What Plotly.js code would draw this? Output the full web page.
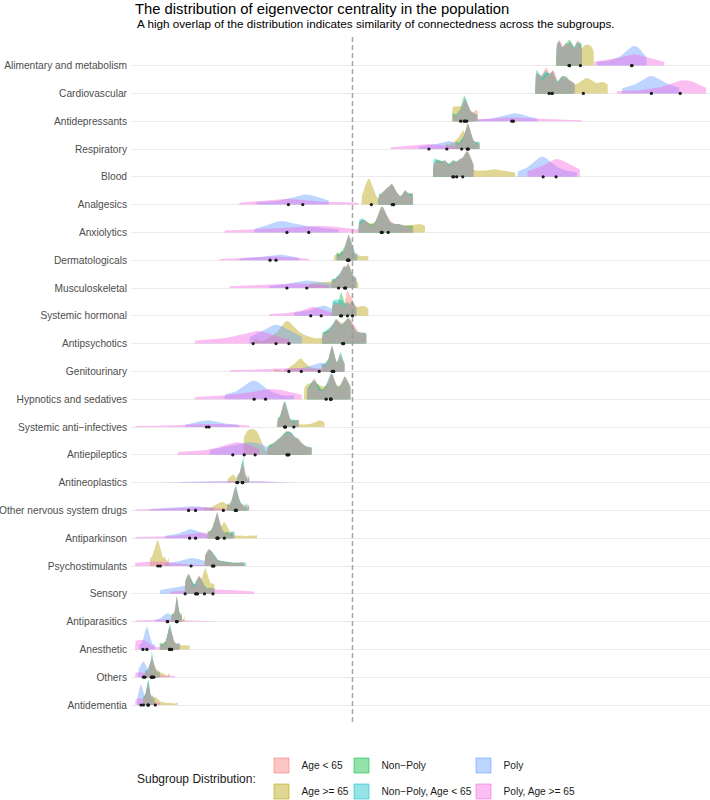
<!DOCTYPE html>
<html>
<head>
<meta charset="utf-8">
<script src="https://cdn.plot.ly/plotly-3.0.1.min.js"></script>
<style>
  html, body { margin: 0; padding: 0; background: #ffffff; }
  #chart { width: 710px; height: 800px; }
</style>
</head>
<body>
<div id="chart"></div>
<script>
// Therapeutic groups, listed top to bottom
const categories = [
  "Alimentary and metabolism", "Cardiovascular", "Antidepressants", "Respiratory", "Blood",
  "Analgesics", "Anxiolytics", "Dermatologicals", "Musculoskeletal", "Systemic hormonal",
  "Antipsychotics", "Genitourinary", "Hypnotics and sedatives", "Systemic anti\u2212infectives",
  "Antiepileptics", "Antineoplastics", "Other nervous system drugs", "Antiparkinson",
  "Psychostimulants", "Sensory", "Antiparasitics", "Anesthetic", "Others", "Antidementia"
];

const subgroups = [
  "Age < 65", "Age >= 65", "Non\u2212Poly", "Non\u2212Poly, Age < 65", "Poly", "Poly, Age >= 65"
];

// Eigenvector centrality reference value (dashed line)
const referenceCentrality = 0.219;

// Centrality samples, one list per therapeutic group (same order as categories)
const allPatients = [
  [.424,.426,.427,.428,.431,.433,.434,.436,.438,.439,.441,.444,.445,.446,.449,.450],
  [.403,.405,.406,.407,.412,.414,.415,.419,.420,.421,.422,.428,.430,.431,.435,.436,.440,.443],
  [.320,.324,.327,.329,.330,.331,.332,.333,.334,.335,.337,.339,.342,.345],
  [.323,.327,.330,.332,.333,.334,.335,.335,.336,.337,.338,.340,.343,.347],
  [.300,.302,.305,.306,.311,.312,.313,.319,.320,.321,.326,.327,.328,.332,.333,.334,.335,.336,.339,.341],
  [.245,.248,.251,.253,.254,.257,.258,.259,.260,.263,.265,.270,.272,.273,.277,.280],
  [.225,.229,.231,.233,.238,.244,.246,.247,.248,.249,.250,.251,.253,.256,.260,.264,.268,.273,.280],
  [.203,.207,.210,.212,.213,.214,.215,.215,.216,.217,.218,.220,.223],
  [.198,.202,.205,.207,.209,.210,.211,.213,.214,.215,.216,.218,.220,.223],
  [.198,.200,.202,.203,.206,.207,.208,.212,.213,.214,.217,.218,.219,.221,.223],
  [.188,.193,.197,.200,.202,.203,.205,.208,.211,.213,.215,.216,.218,.221,.225,.229,.233],
  [.188,.192,.195,.197,.198,.198,.199,.200,.202,.205,.207,.208,.211],
  [.173,.177,.180,.181,.182,.188,.192,.196,.197,.198,.199,.200,.204,.209,.210,.211,.212,.215,.217],
  [.143,.146,.148,.149,.150,.150,.151,.152,.153,.155,.158,.162,.165],
  [.133,.138,.141,.144,.146,.148,.150,.152,.153,.155,.156,.158,.160,.162,.164,.166,.169,.173,.178],
  [.103,.105,.106,.107,.108,.108,.109,.110,.112,.115],
  [.093,.097,.099,.100,.101,.101,.102,.103,.105,.108,.115],
  [.073,.077,.080,.081,.082,.083,.083,.084,.086,.089,.094,.100],
  [.070,.072,.073,.074,.075,.076,.077,.079,.082,.086,.091,.097,.104,.110],
  [.050,.052,.053,.054,.055,.056,.060,.063,.064,.065,.066,.068,.072,.076,.080],
  [.037,.039,.040,.041,.042,.042,.042,.043,.044,.045,.047],
  [.025,.029,.032,.033,.034,.035,.035,.036,.037,.039,.042,.045],
  [.010,.013,.015,.016,.017,.017,.018,.019,.021,.025],
  [.008,.010,.011,.012,.013,.013,.014,.015,.017,.020]
];

const ageUnder65 = [
  [.425,.427,.428,.430,.433,.434,.437,.438,.440,.443,.445,.446,.448,.450],
  [.404,.406,.409,.413,.414,.415,.420,.421,.423,.429,.431,.436,.441],
  [.321,.326,.329,.331,.332,.334,.335,.337,.340,.343,.345],
  [.324,.329,.332,.334,.335,.336,.337,.339,.342,.346],
  [.301,.305,.307,.312,.313,.320,.321,.327,.328,.333,.334,.335,.338,.341],
  [.246,.250,.253,.256,.258,.259,.262,.266,.271,.273,.278,.280],
  [.226,.230,.232,.239,.245,.247,.248,.250,.252,.255,.259,.265,.271,.279],
  [.204,.208,.211,.213,.214,.215,.216,.217,.219,.223],
  [.199,.203,.206,.209,.210,.212,.214,.215,.216,.219,.222],
  [.203,.206,.208,.212,.213,.214,.215,.217,.218,.220,.223],
  [.190,.195,.199,.202,.204,.207,.210,.213,.215,.217,.220,.224,.230],
  [.189,.193,.196,.197,.198,.199,.201,.204,.206,.207,.208,.211],
  [.175,.179,.181,.182,.189,.194,.197,.198,.199,.203,.209,.211,.212,.216],
  [.144,.147,.149,.150,.151,.152,.154,.157,.161,.165],
  [.134,.139,.143,.146,.149,.151,.153,.155,.157,.159,.162,.165,.169,.176],
  [.104,.106,.107,.108,.109,.110,.111,.114],
  [.094,.098,.100,.101,.102,.103,.105,.109,.114],
  [.074,.078,.080,.082,.083,.084,.085,.088,.093,.099],
  [.071,.073,.074,.075,.076,.078,.080,.084,.089,.095,.103,.110],
  [.051,.053,.054,.055,.058,.062,.064,.065,.067,.071,.078],
  [.038,.040,.041,.042,.042,.043,.044,.046],
  [.026,.030,.033,.034,.035,.036,.037,.040,.044],
  [.011,.014,.016,.017,.018,.019,.021,.024],
  [.009,.011,.012,.013,.014,.015,.017,.019]
];

const ageOver65 = [
  [.424,.428,.432,.436,.440,.444,.447,.450,.452,.454,.456,.458,.460,.462],
  [.403,.410,.418,.425,.433,.440,.446,.450,.453,.455,.457,.460,.466,.470,.473,.476],
  [.319,.321,.323,.325,.327,.329,.331,.333,.335,.338],
  [.313,.318,.322,.325,.327,.329,.330,.331,.333,.335,.337],
  [.300,.303,.306,.309,.312,.315,.318,.321,.324,.327,.330,.334,.338,.344,.350,.356,.361,.364,.370,.377,.383],
  [.228,.232,.234,.235,.235,.236,.237,.239,.243,.250,.256,.262,.268,.275],
  [.225,.230,.236,.242,.248,.252,.258,.265,.272,.280,.286,.292],
  [.200,.204,.207,.210,.212,.214,.216,.218,.221,.225,.230,.235],
  [.175,.182,.188,.194,.199,.203,.207,.211,.214,.217,.220,.225],
  [.198,.203,.207,.211,.215,.219,.223,.226,.229,.232,.235],
  [.120,.135,.142,.147,.150,.152,.154,.156,.159,.163,.168,.175,.185,.195],
  [.140,.155,.160,.163,.165,.166,.167,.168,.170,.173,.178,.185,.195,.205],
  [.170,.174,.178,.181,.185,.190,.195,.198,.202,.207,.211,.215],
  [.144,.148,.150,.151,.153,.156,.160,.168,.176,.183,.185,.187,.191],
  [.109,.110,.112,.113,.115,.116,.118,.119,.121,.122,.124,.125,.127,.140,.150,.160,.170],
  [.093,.096,.098,.099,.101,.104,.107,.108,.109,.111],
  [.070,.078,.083,.086,.088,.090,.094,.099,.103,.110],
  [.075,.080,.085,.088,.089,.090,.090,.091,.093,.098,.106,.115,.123],
  [.015,.018,.020,.021,.022,.023,.024,.025,.027,.030,.034],
  [.055,.060,.064,.067,.069,.070,.071,.072,.074,.077,.080],
  [.036,.038,.040,.041,.042,.043,.044,.046,.050],
  [.026,.030,.033,.035,.036,.038,.041,.045,.050,.055],
  [.012,.015,.017,.018,.019,.021,.024,.028,.035],
  [.010,.013,.016,.018,.020,.021,.023,.028,.035,.043]
];

const nonPoly = [
  [.424,.426,.428,.431,.433,.435,.437,.438,.440,.442,.445,.447,.449,.450],
  [.403,.405,.407,.412,.414,.416,.420,.422,.428,.430,.434,.436,.442],
  [.320,.325,.328,.330,.331,.332,.333,.335,.338,.342],
  [.323,.328,.331,.333,.334,.335,.336,.338,.341,.345],
  [.300,.304,.306,.311,.313,.319,.321,.326,.328,.333,.335,.336,.340],
  [.245,.249,.252,.254,.257,.258,.260,.264,.270,.272,.276,.279],
  [.225,.229,.231,.237,.244,.246,.248,.249,.251,.254,.261,.266,.274,.280],
  [.203,.207,.210,.212,.214,.215,.216,.218,.221],
  [.198,.202,.205,.208,.210,.211,.213,.215,.216,.218,.221],
  [.199,.201,.203,.206,.207,.208,.209,.212,.214,.218,.222],
  [.188,.193,.198,.201,.203,.205,.209,.212,.214,.216,.219,.226,.232],
  [.188,.192,.195,.197,.198,.199,.200,.203,.207,.210],
  [.173,.178,.180,.182,.187,.193,.196,.198,.200,.205,.210,.211,.214,.217],
  [.143,.146,.148,.150,.150,.151,.153,.156,.160,.164],
  [.133,.138,.142,.145,.148,.150,.152,.154,.156,.158,.161,.164,.168,.174],
  [.103,.105,.107,.108,.108,.109,.111,.115],
  [.093,.097,.099,.100,.101,.102,.104,.107,.112],
  [.073,.077,.080,.081,.082,.083,.085,.087,.092,.098],
  [.070,.072,.074,.075,.076,.077,.079,.083,.088,.094,.101,.108],
  [.050,.052,.054,.055,.057,.061,.063,.065,.066,.070,.076],
  [.037,.039,.041,.042,.042,.043,.044,.047],
  [.025,.029,.032,.034,.035,.035,.036,.038,.043],
  [.010,.013,.015,.016,.017,.018,.020,.025],
  [.008,.010,.012,.013,.013,.014,.016,.020]
];

const nonPolyUnder65 = [
  [.424,.425,.427,.429,.432,.433,.436,.438,.439,.442,.444,.446,.448,.449],
  [.403,.404,.406,.411,.413,.415,.419,.421,.428,.430,.435,.440],
  [.320,.324,.328,.330,.332,.333,.334,.336,.339,.343],
  [.324,.328,.331,.333,.335,.336,.337,.339,.343,.347],
  [.300,.302,.305,.310,.312,.318,.320,.326,.327,.332,.334,.336,.339],
  [.245,.248,.253,.255,.258,.259,.261,.265,.271,.272,.277,.280],
  [.225,.228,.231,.236,.244,.247,.248,.250,.251,.256,.262,.267,.275],
  [.204,.208,.211,.213,.215,.216,.217,.218,.220,.224],
  [.199,.203,.206,.208,.210,.212,.214,.215,.217,.220,.223],
  [.198,.200,.202,.204,.206,.208,.210,.213,.216,.219],
  [.189,.194,.198,.201,.203,.206,.210,.213,.215,.217,.221,.228,.233],
  [.190,.194,.196,.198,.199,.200,.203,.206,.207,.208,.211],
  [.174,.178,.181,.183,.190,.195,.197,.198,.200,.206,.210,.212,.215],
  [.144,.147,.149,.150,.151,.152,.153,.155,.159,.163],
  [.135,.140,.144,.147,.150,.152,.154,.156,.158,.160,.163,.167,.172,.178],
  [.104,.106,.107,.108,.109,.109,.110,.113],
  [.095,.098,.100,.101,.102,.102,.104,.106,.113],
  [.075,.079,.081,.082,.083,.084,.086,.090,.096,.100],
  [.071,.073,.075,.076,.077,.078,.081,.085,.090,.097,.105,.112],
  [.051,.053,.054,.056,.059,.063,.065,.066,.069,.074,.080],
  [.038,.040,.041,.042,.043,.043,.045,.047],
  [.027,.031,.033,.034,.035,.036,.037,.039,.045],
  [.011,.014,.016,.017,.017,.018,.020,.023],
  [.009,.011,.012,.013,.014,.014,.016,.018]
];

const poly = [
  [.465,.478,.486,.492,.496,.499,.501,.503,.505,.507,.510,.515],
  [.490,.500,.507,.512,.516,.519,.521,.524,.528,.533,.540,.548],
  [.345,.360,.368,.374,.378,.381,.383,.386,.390,.396,.405],
  [.285,.295,.302,.307,.311,.314,.316,.319,.323,.328,.335],
  [.385,.395,.401,.405,.408,.410,.412,.415,.419,.425,.433,.445],
  [.122,.140,.152,.160,.165,.169,.172,.176,.181,.186,.195],
  [.120,.132,.139,.143,.146,.149,.153,.158,.165,.172,.180,.190,.205],
  [.105,.118,.127,.133,.138,.142,.145,.148,.152,.158,.165],
  [.135,.150,.158,.164,.169,.173,.177,.182,.188,.196,.210],
  [.160,.170,.177,.182,.186,.189,.191,.194,.198,.205],
  [.115,.124,.130,.135,.139,.142,.145,.149,.154,.160,.168],
  [.150,.165,.174,.180,.184,.187,.189,.192,.196,.205],
  [.090,.103,.110,.115,.118,.120,.122,.126,.132,.142,.160],
  [.050,.060,.066,.070,.073,.076,.080,.086,.095,.105],
  [.075,.088,.097,.104,.110,.116,.121,.127,.135],
  [.045,.065,.080,.092,.100,.106,.112,.120,.132,.155],
  [.015,.030,.040,.047,.052,.056,.060,.066,.073,.080],
  [.030,.040,.047,.051,.054,.056,.058,.062,.067,.075],
  [.030,.040,.047,.052,.055,.058,.061,.065,.071,.080],
  [.025,.035,.042,.048,.053,.057,.061,.065],
  [.020,.026,.029,.031,.032,.033,.034,.036,.039,.045],
  [.004,.008,.010,.011,.012,.012,.013,.014,.016,.020],
  [.003,.005,.007,.008,.009,.010,.012,.015],
  [.002,.004,.005,.006,.006,.007,.008,.010,.012]
];

const polyOver65 = [
  [.462,.472,.480,.488,.494,.499,.502,.505,.510,.516,.522,.533],
  [.485,.510,.525,.535,.542,.547,.551,.554,.557,.561,.566,.575],
  [.335,.350,.360,.367,.372,.377,.382,.390,.400,.415,.430,.450],
  [.257,.268,.278,.286,.292,.296,.300,.305,.312,.322,.335],
  [.395,.405,.412,.417,.421,.424,.427,.431,.436,.441,.448],
  [.105,.122,.134,.142,.148,.152,.157,.165,.176,.192,.210,.225],
  [.090,.115,.135,.150,.162,.172,.178,.185,.192,.200,.210,.225],
  [.085,.100,.112,.122,.130,.136,.140,.146,.153,.162,.175],
  [.095,.112,.125,.136,.145,.153,.160,.168,.176,.185,.195],
  [.135,.150,.160,.168,.173,.176,.178,.180,.182,.185,.190,.200],
  [.060,.080,.095,.105,.113,.119,.123,.127,.132,.140,.155],
  [.095,.115,.130,.142,.150,.155,.160,.170,.182,.195,.210],
  [.060,.085,.100,.112,.122,.129,.134,.138,.143,.150,.158,.168],
  [.000,.020,.040,.055,.065,.072,.076,.083,.092,.103,.115],
  [.043,.062,.075,.085,.092,.097,.100,.103,.107,.112,.118,.125],
  [.030,.055,.075,.090,.100,.107,.114,.125,.140,.160],
  [.000,.015,.030,.045,.055,.061,.064,.068,.075,.085,.095],
  [.000,.020,.035,.047,.056,.061,.064,.066,.069,.074,.080],
  [.000,.000,.002,.015,.020,.024,.027,.030,.035,.050,.080,.100],
  [.035,.050,.060,.068,.075,.082,.090,.100,.110,.120],
  [.000,.005,.018,.026,.030,.033,.036,.042,.055,.070,.085],
  [.000,.000,.001,.004,.007,.008,.009,.011,.014,.020,.030],
  [.000,.000,.002,.006,.010,.014,.020,.030,.040],
  [.000,.002,.004,.007,.010,.013,.017,.025]
];

// ---- styling ----
const FONT = "Liberation Sans, Arial, Helvetica, sans-serif";
const hues = ["#F8766D", "#B79F00", "#00BA38", "#00BFC4", "#619CFF", "#F564E3"];
const FILL_ALPHA = 0.42;
const POPULATION_FILL = "rgba(174,171,164,0.95)";
const RIDGE_HEIGHT = 0.93;   // tallest ridge in a row, in row units
const GRID_POINTS = 260;
// kernel bandwidth multiplier (relative to the normal reference rule)
const SMOOTHING = [0.35, 0.35, 0.35, 0.35, 0.6, 0.6];
const SMOOTHING_ALL = 0.35;

function rgba(hex, a) {
  const n = parseInt(hex.slice(1), 16);
  return "rgba(" + ((n >> 16) & 255) + "," + ((n >> 8) & 255) + "," + (n & 255) + "," + a + ")";
}

// ---- kernel density estimate (gaussian kernel, evaluated over the sample range) ----
function bandwidth(xs, factor) {
  const n = xs.length;
  const m = xs.reduce((s, v) => s + v, 0) / n;
  const sd = Math.sqrt(xs.reduce((s, v) => s + (v - m) * (v - m), 0) / (n - 1));
  return Math.max(factor * 1.059 * sd * Math.pow(n, -0.2), 0.0006);
}
function density(xs, factor) {
  const bw = bandwidth(xs, factor);
  const lo = Math.min(...xs), hi = Math.max(...xs);
  const gx = [], gy = [];
  const norm = 1 / (xs.length * bw * Math.sqrt(2 * Math.PI));
  for (let k = 0; k < GRID_POINTS; k++) {
    const g = lo + (hi - lo) * k / (GRID_POINTS - 1);
    let s = 0;
    for (const x of xs) { const u = (g - x) / bw; s += Math.exp(-0.5 * u * u); }
    gx.push(g); gy.push(s * norm);
  }
  return { gx, gy, lo, hi };
}
function median(xs) {
  const s = xs.slice().sort((a, b) => a - b);
  const h = Math.floor(s.length / 2);
  return s.length % 2 ? s[h] : (s[h - 1] + s[h]) / 2;
}

const seriesData = [ageUnder65, ageOver65, nonPoly, nonPolyUnder65, poly, polyOver65];
const nRows = categories.length;
const baseline = i => nRows - 1 - i;

// densities for all series, then the per-row maximum used to scale ridge heights
const dens = seriesData.map((series, s) => series.map(xs => density(xs, SMOOTHING[s])));
const densAll = allPatients.map(xs => density(xs, SMOOTHING_ALL));
const rowMax = categories.map((c, i) => {
  let m = Math.max(...densAll[i].gy);
  dens.forEach(ds => { m = Math.max(m, Math.max(...ds[i].gy)); });
  return m;
});

function ridgePaths(dList) {
  const x = [], y = [];
  dList.forEach((d, i) => {
    const b = baseline(i);
    x.push(d.lo); y.push(b);
    d.gx.forEach((g, k) => { x.push(g); y.push(b + RIDGE_HEIGHT * d.gy[k] / rowMax[i]); });
    x.push(d.hi); y.push(b);
    x.push(null); y.push(null);
  });
  return { x, y };
}

const traces = [];

// coloured subgroup ridges
dens.forEach((dList, s) => {
  const p = ridgePaths(dList);
  traces.push({
    type: "scatter", mode: "lines", x: p.x, y: p.y,
    fill: "toself", fillcolor: rgba(hues[s], FILL_ALPHA),
    line: { width: 0, color: rgba(hues[s], 0) },
    name: subgroups[s], legendgroup: subgroups[s], showlegend: false,
    hoverinfo: "skip"
  });
});

// whole population ridge, in grey, over the subgroups
{
  const p = ridgePaths(densAll);
  traces.push({
    type: "scatter", mode: "lines", x: p.x, y: p.y,
    fill: "toself", fillcolor: POPULATION_FILL,
    line: { width: 0, color: "rgba(0,0,0,0)" },
    name: "All patients", showlegend: false, hoverinfo: "skip"
  });
}

// median markers on the baselines
seriesData.forEach((series, s) => {
  traces.push({
    type: "scatter", mode: "markers",
    x: series.map(median), y: series.map((v, i) => baseline(i)),
    marker: { color: "#1a1a1a", size: 3.2 },
    name: subgroups[s], legendgroup: subgroups[s], showlegend: false,
    hovertemplate: subgroups[s] + " median: %{x:.3f}<extra></extra>"
  });
});

// legend keys, three columns
const legendIds = ["legend", "legend", "legend2", "legend2", "legend3", "legend3"];
subgroups.forEach((name, s) => {
  traces.push({
    type: "scatter", mode: "markers", x: [null], y: [null],
    marker: { symbol: "square", size: 15, color: rgba(hues[s], FILL_ALPHA),
              line: { color: rgba(hues[s], 0.55), width: 1 } },
    name: name, legendgroup: name, legend: legendIds[s], showlegend: true
  });
});

const PL = 131, PR = 710, PT = 36, PB = 722;
const pw = PR - PL, ph = PB - PT;
const px2paperX = v => (v - PL) / pw;
const px2paperY = v => (PB - v) / ph;

const legendCommon = {
  orientation: "v", xanchor: "left", yanchor: "top",
  font: { family: FONT, size: 10.2, color: "#1a1a1a" },
  bgcolor: "rgba(0,0,0,0)", traceorder: "grouped", tracegroupgap: 7,
  itemwidth: 30, itemclick: false, itemdoubleclick: false
};

const layout = {
  width: 710, height: 800,
  margin: { l: PL, r: 710 - PR, t: PT, b: 800 - PB, autoexpand: false },
  paper_bgcolor: "#ffffff", plot_bgcolor: "#ffffff",
  font: { family: FONT, color: "#1a1a1a" },
  showlegend: true,
  title: {
    text: "The distribution of eigenvector centrality in the population",
    font: { family: FONT, size: 14.8, color: "#000000" },
    x: 135 / 710, xref: "container", xanchor: "left",
    y: 1 - 3.5 / 800, yref: "container", yanchor: "top"
  },
  xaxis: {
    range: [-0.004, 0.579], showgrid: false, zeroline: false,
    showticklabels: false, ticks: "", showline: false, fixedrange: true
  },
  yaxis: {
    range: [-(PB - 705) / 27.8, (705 - PT) / 27.8],
    tickmode: "array",
    tickvals: categories.map((c, i) => baseline(i)),
    ticktext: categories,
    showgrid: true, gridcolor: "#EBEBEB", gridwidth: 1.1,
    zeroline: false, ticks: "", showline: false, ticklabelstandoff: 3,
    tickfont: { family: FONT, size: 10.2, color: "#4D4D4D" },
    fixedrange: true
  },
  legend: Object.assign({}, legendCommon, { x: px2paperX(261.5), y: px2paperY(751) }),
  legend2: Object.assign({}, legendCommon, { x: px2paperX(341.5), y: px2paperY(751) }),
  legend3: Object.assign({}, legendCommon, { x: px2paperX(463.5), y: px2paperY(751) }),
  shapes: [{
    type: "line", xref: "x", yref: "paper",
    x0: referenceCentrality, x1: referenceCentrality, y0: 0, y1: 1,
    line: { color: "rgba(150,150,150,0.85)", width: 1.5, dash: "5px,3px" },
    layer: "above"
  }],
  annotations: [
    {
      text: "A high overlap of the distribution indicates similarity of connectedness across the subgroups.",
      xref: "paper", yref: "paper", x: px2paperX(135), y: px2paperY(23.5),
      xanchor: "left", yanchor: "middle", showarrow: false,
      font: { family: FONT, size: 11.7, color: "#000000" }
    },
    {
      text: "Subgroup Distribution:", xref: "paper", yref: "paper",
      x: px2paperX(258), y: px2paperY(779), xanchor: "right", yanchor: "middle",
      showarrow: false, font: { family: FONT, size: 12, color: "#1a1a1a" }
    }
  ]
};

Plotly.newPlot("chart", traces, layout, { displayModeBar: false });
</script>
</body>
</html>
